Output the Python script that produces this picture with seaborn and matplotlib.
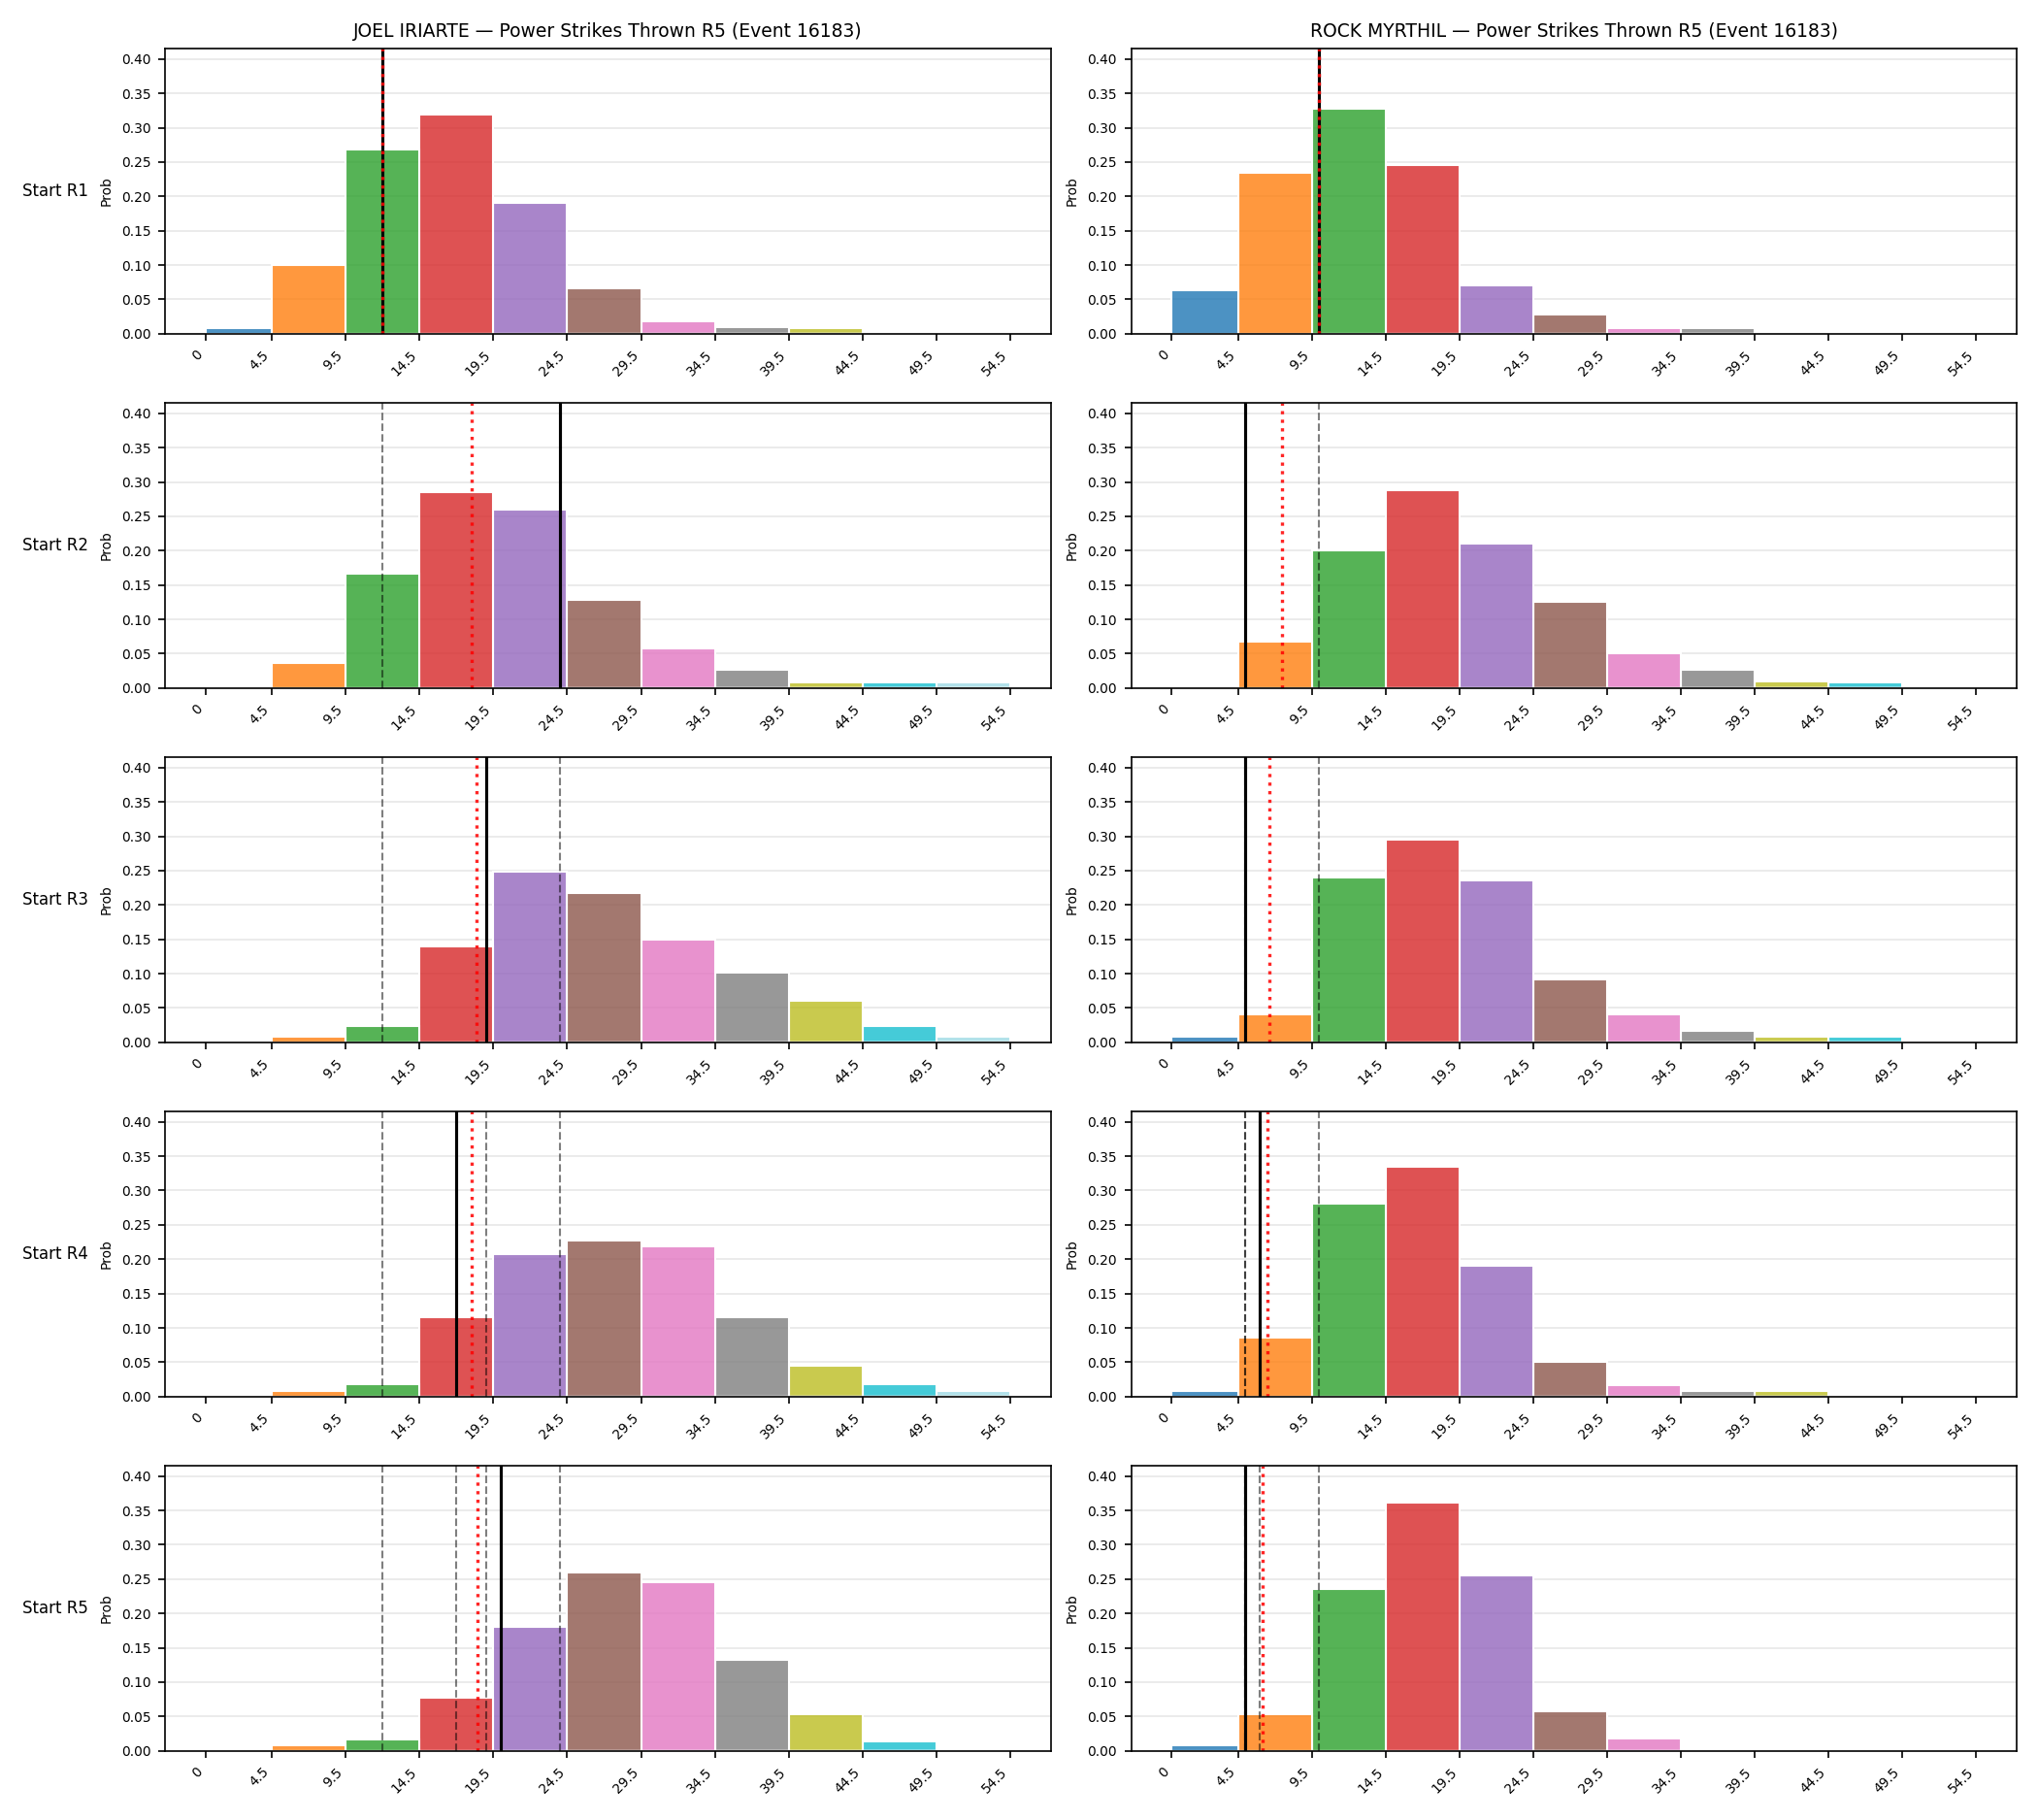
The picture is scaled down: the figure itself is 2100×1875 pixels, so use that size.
import numpy as np
import pandas as pd
import matplotlib
matplotlib.use("Agg")
import matplotlib.pyplot as plt
from matplotlib.ticker import MultipleLocator, FormatStrFormatter
import seaborn as sns

fighters = ["JOEL IRIARTE", "ROCK MYRTHIL"]
rounds = ["R1", "R2", "R3", "R4", "R5"]
bin_edges = [0, 4.5, 9.5, 14.5, 19.5, 24.5, 29.5, 34.5, 39.5, 44.5, 49.5, 54.5]
tick_labels = ["0", "4.5", "9.5", "14.5", "19.5", "24.5", "29.5", "34.5", "39.5", "44.5", "49.5", "54.5"]

joel_probs = [
    [0.008, 0.100, 0.268, 0.319, 0.190, 0.066, 0.018, 0.010, 0.008, 0.0, 0.0],
    [0.0, 0.037, 0.166, 0.285, 0.260, 0.128, 0.057, 0.027, 0.008, 0.008, 0.008],
    [0.0, 0.008, 0.024, 0.140, 0.248, 0.218, 0.150, 0.102, 0.060, 0.024, 0.008],
    [0.0, 0.008, 0.018, 0.116, 0.207, 0.227, 0.219, 0.115, 0.045, 0.018, 0.008],
    [0.0, 0.008, 0.017, 0.077, 0.180, 0.259, 0.246, 0.132, 0.053, 0.014, 0.0],
]
rock_probs = [
    [0.064, 0.234, 0.327, 0.246, 0.071, 0.028, 0.008, 0.008, 0.0, 0.0, 0.0],
    [0.0, 0.068, 0.201, 0.288, 0.211, 0.126, 0.050, 0.026, 0.010, 0.008, 0.0],
    [0.008, 0.041, 0.240, 0.295, 0.236, 0.091, 0.040, 0.016, 0.008, 0.008, 0.0],
    [0.008, 0.086, 0.281, 0.335, 0.191, 0.050, 0.017, 0.008, 0.008, 0.0, 0.0],
    [0.008, 0.053, 0.236, 0.361, 0.255, 0.058, 0.018, 0.0, 0.0, 0.0, 0.0],
]
joel_actual = [12, 24, 19, 17, 20]
rock_actual = [10, 5, 5, 6, 5]

bin_colors = ["#1f77b4", "#ff7f0e", "#2ca02c", "#d62728", "#9467bd", "#8c564b",
              "#e377c2", "#7f7f7f", "#bcbd22", "#17becf", "#9edae5"]

all_probs = [joel_probs, rock_probs]
all_actual = [joel_actual, rock_actual]

edges = np.array(bin_edges)
mids = (edges[:-1] + edges[1:]) / 2
bin_ids = [f"b{i}" for i in range(len(mids))]
palette = dict(zip(bin_ids, bin_colors))
ymax = max(max(max(p) for p in probs) for probs in all_probs) * 1.15
span = edges[-1] - edges[0]

fig, axes = plt.subplots(5, 2, figsize=(14, 12.5))
fig.subplots_adjust(left=0.081, right=0.9895, top=0.9733, bottom=0.038,
                    wspace=0.091, hspace=0.2424)

for col in range(2):
    name = fighters[col]
    for r, rnd in enumerate(rounds):
        ax = axes[r, col]
        df = pd.DataFrame({"x": mids, "bin": bin_ids, "p": all_probs[col][r]})
        sns.histplot(data=df, x="x", weights="p", hue="bin", hue_order=bin_ids,
                     palette=palette, bins=bin_edges, multiple="layer",
                     alpha=0.8, edgecolor="white", linewidth=1.0,
                     legend=False, ax=ax)
        actual = all_actual[col]
        for prev in actual[:r]:
            ax.axvline(prev, color="black", ls="--", lw=1.0, alpha=0.5)
        ax.axvline(actual[r], color="black", lw=1.5)
        ax.axvline(np.mean(actual[:r + 1]), color="red", ls=":", lw=1.6, alpha=0.85)

        ax.set_xlim(edges[0] - 0.05 * span, edges[-1] + 0.05 * span)
        ax.set_ylim(0, ymax)
        ax.set_xticks(bin_edges)
        ax.set_xticklabels(tick_labels, rotation=45, ha="right", fontsize=6.6)
        ax.yaxis.set_major_locator(MultipleLocator(0.05))
        ax.yaxis.set_major_formatter(FormatStrFormatter("%.2f"))
        ax.tick_params(axis="y", labelsize=6.6)
        ax.set_xlabel("")
        ax.set_ylabel("Prob", fontsize=6.6)
        ax.grid(axis="y", alpha=0.3)
        ax.set_axisbelow(True)
        if r == 0:
            ax.set_title(f"{name} — Power Strikes Thrown R5 (Event 16183)", fontsize=9)
        if col == 0:
            ax.text(-0.087, 0.5, f"Start {rnd}", transform=ax.transAxes,
                    ha="right", va="center", fontsize=8)

fig.savefig("out.png", dpi=150)
